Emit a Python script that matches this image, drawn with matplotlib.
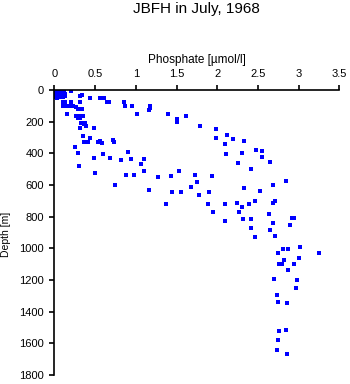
import matplotlib
matplotlib.use("Agg")
import matplotlib.pyplot as plt

plt.rcParams["font.family"] = ["Liberation Sans", "DejaVu Sans"]

# phosphate [umol/l] and depth [m]
fosfato = [
    0.02, 0.05, 0.08, 0.11, 0.03, 0.06, 0.09, 0.12, 0.01, 0.04, 0.07, 0.10, 0.13,
    0.02, 0.05, 0.08, 0.11, 0.01, 0.04, 0.07, 0.10, 0.13, 0.03, 0.06, 0.09, 0.12,
    0.21, 0.31, 0.34,
    0.44, 0.56, 0.61, 0.65, 0.67, 0.86, 0.87, 0.95, 1.17, 1.17, 1.16,
    1.01, 1.39, 1.51, 1.50, 1.62, 1.79,
    0.10, 0.13, 0.20, 0.31, 0.10, 0.16, 0.19, 0.23, 0.27, 0.34, 0.29, 0.16,
    0.27, 0.31, 0.35, 0.29, 0.32, 0.33, 0.36, 0.39, 0.31, 0.37, 0.49, 0.35,
    0.44, 0.36, 0.41, 0.54, 0.56, 0.58, 0.72, 0.73, 0.25, 0.29, 0.91, 0.60,
    0.49, 0.68, 0.82, 0.94, 1.10, 1.07, 0.30, 0.50, 0.88, 0.98, 1.10, 0.74,
    1.27, 1.43, 1.53, 1.16, 1.45, 1.56, 1.37, 1.73, 1.75, 1.68, 1.78,
    1.98, 1.98, 2.12, 2.20, 2.09, 2.33, 2.48, 2.55, 2.55, 2.11, 2.31, 2.26,
    2.41, 2.65, 1.93, 1.90, 2.33, 2.52, 2.69, 2.84, 1.89, 2.09, 2.24, 2.31,
    2.39, 2.47, 2.68, 2.71, 1.95, 2.27, 2.64, 2.09, 2.32, 2.42, 2.92, 2.94,
    2.69, 2.90, 2.42, 2.65, 2.47, 2.71, 2.81, 2.87, 3.02, 2.75, 3.25, 2.82,
    3.01, 2.76, 2.80, 2.94, 2.87, 2.70, 2.98, 2.97, 2.74, 2.75, 2.86, 2.76,
    2.84, 2.75, 2.74, 2.86,
]
profundidade = [
    5, 5, 5, 5, 15, 12, 15, 12, 25, 22, 25, 22, 25,
    35, 32, 35, 32, 45, 45, 42, 45, 40, 50, 0, 0, 30,
    4, 36, 32,
    52, 52, 52, 73, 78, 78, 101, 103, 103, 115, 128,
    153, 153, 185, 204, 164, 227,
    74, 74, 78, 78, 101, 101, 101, 101, 105, 120, 122, 153,
    162, 162, 162, 179, 179, 206, 215, 225, 242, 210, 237, 293,
    306, 326, 326, 328, 324, 333, 317, 330, 362, 399, 393, 404,
    431, 431, 444, 437, 437, 469, 481, 524, 538, 538, 513, 601,
    551, 545, 513, 630, 646, 646, 721, 538, 582, 614, 664,
    248, 305, 286, 311, 343, 324, 380, 387, 425, 402, 399, 463,
    500, 456, 545, 644, 620, 639, 601, 576, 721, 721, 711, 740,
    717, 702, 715, 702, 772, 772, 784, 825, 816, 816, 810, 810,
    841, 854, 873, 882, 929, 924, 1003, 1003, 993, 1030, 1030, 1075,
    1062, 1100, 1100, 1100, 1138, 1194, 1201, 1251, 1292, 1342, 1346, 1523,
    1516, 1579, 1639, 1668,
]

W, H = 350, 384
fig = plt.figure(figsize=(W / 100, H / 100), dpi=100)
ax = fig.add_axes([54.4 / W, 1 - 375 / H, (339.3 - 54.4) / W, (375 - 90) / H])

ax.plot(fosfato, profundidade, "s", color="#0000ff", markersize=2.2, markeredgewidth=0)

ax.set_xlim(0, 3.5)
ax.set_ylim(1800, 0)
ax.set_xticks([0, 0.5, 1, 1.5, 2, 2.5, 3, 3.5])
ax.set_xticklabels(["0", "0.5", "1", "1.5", "2", "2.5", "3", "3.5"])
ax.set_yticks(range(0, 1801, 200))

ax.xaxis.tick_top()
ax.spines["right"].set_visible(False)
ax.spines["bottom"].set_visible(False)
for lado in ["left", "top"]:
    ax.spines[lado].set_linewidth(1.2)
ax.tick_params(direction="out", length=3.6, width=1.2, labelsize=8, pad=4)

# titulos e rotulos
fig.text(196.9 / W, 1 - 9 / H, "JBFH in July, 1968", ha="center", va="center", fontsize=11)
fig.text(196.9 / W, 1 - 60 / H, "Phosphate [µmol/l]", ha="center", va="center", fontsize=8.5)
fig.text(6 / W, 1 - 234 / H, "Depth [m]", ha="center", va="center", rotation=90, fontsize=7.5)

fig.savefig("out.png", dpi=100)
